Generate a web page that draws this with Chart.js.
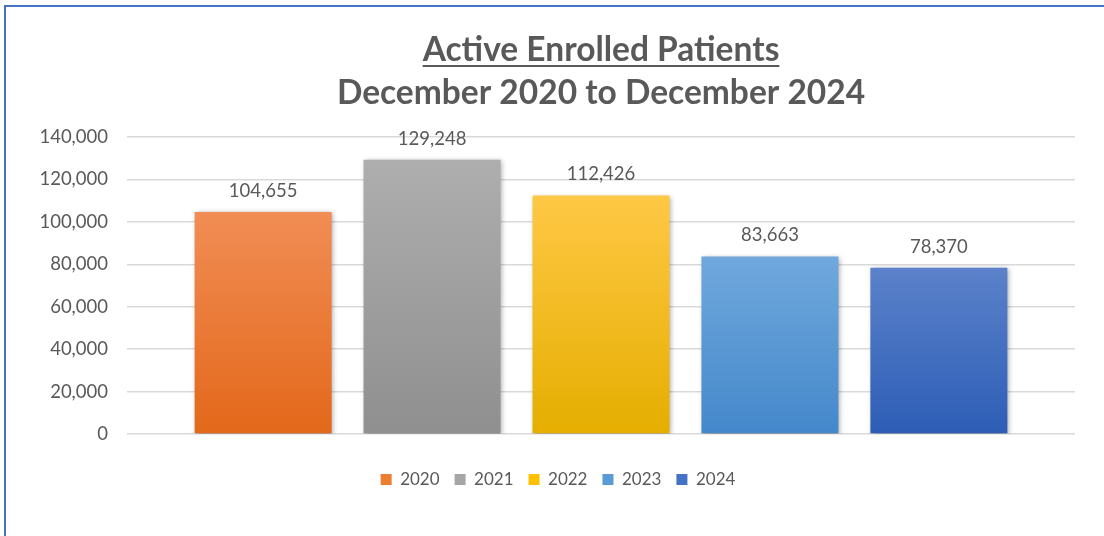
<!DOCTYPE html>
<html>
<head>
<meta charset="utf-8">
<script src="https://cdn.jsdelivr.net/npm/chart.js@4.4.1/dist/chart.umd.min.js"></script>
<style>
  html, body { margin: 0; padding: 0; background: #ffffff; }
  #wrap { position: relative; width: 1104px; height: 536px; overflow: hidden; }
  #frame { position: absolute; left: 4px; top: 5px; width: 1104px; height: 540px;
           border-left: 2px solid #4472C4; border-top: 2px solid #4472C4; box-sizing: border-box; }
  canvas { position: absolute; left: 0; top: 0; }
</style>
</head>
<body>
<div id="wrap">
  <div id="frame"></div>
  <canvas id="c" width="1104" height="536"></canvas>
</div>
<script>
// ---- data ----
const titleLines = ['Active Enrolled Patients', 'December 2020 to December 2024'];
const years = ['2020', '2021', '2022', '2023', '2024'];
const patients = [104655, 129248, 112426, 83663, 78370];
const topColors = ['#F18D55', '#AEAEAE', '#FFC845', '#70A8DD', '#5B82CA'];
const bottomColors = ['#E3681A', '#8F8F8F', '#E5AE00', '#4488CB', '#2D5DB6'];
const legendColors = ['#ED7D31', '#A5A5A5', '#FFC000', '#5B9BD5', '#4472C4'];
const yMin = 0, yMax = 140000, yStep = 20000;

const FONT = 'Lato, "Open Sans", sans-serif';
const TEXT = '#595959';

function gradFill(i) {
  return function(ctx) {
    const chart = ctx.chart;
    const area = chart.chartArea;
    const ys = chart.scales && chart.scales.y;
    if (!area || !ys) return legendColors[i];
    const top = ys.getPixelForValue(patients[i]);
    const g = chart.ctx.createLinearGradient(0, top, 0, area.bottom);
    g.addColorStop(0, topColors[i]);
    g.addColorStop(1, bottomColors[i]);
    return g;
  };
}

const datasets = years.map((y, i) => ({
  label: y,
  data: [patients[i]],
  backgroundColor: gradFill(i),
  borderWidth: 0,
  categoryPercentage: 0.891,
  barPercentage: 0.811
}));

const titlePlugin = {
  id: 'titleDraw',
  afterDraw(chart) {
    const ctx = chart.ctx;
    const cx = (chart.chartArea.left + chart.chartArea.right) / 2;
    ctx.save();
    ctx.fillStyle = TEXT;
    ctx.textAlign = 'center';
    ctx.textBaseline = 'alphabetic';
    ctx.font = 'bold 33.5px ' + FONT;
    ctx.fillText(titleLines[0], cx, 61);
    const w = ctx.measureText(titleLines[0]).width;
    ctx.fillRect(cx - w / 2, 65, w, 2);
    ctx.fillText(titleLines[1], cx, 104);
    ctx.restore();
  }
};

const shadowLabelPlugin = {
  id: 'shadowLabels',
  beforeDatasetsDraw(chart) {
    const ctx = chart.ctx;
    ctx.save();
    ctx.shadowColor = 'rgba(0,0,0,0.35)';
    ctx.shadowBlur = 5;
    ctx.shadowOffsetX = 1.5;
    ctx.shadowOffsetY = 1.5;
  },
  afterDatasetsDraw(chart) {
    const ctx = chart.ctx;
    ctx.restore();
    ctx.save();
    ctx.fillStyle = TEXT;
    ctx.font = '18.5px ' + FONT;
    ctx.textAlign = 'center';
    ctx.textBaseline = 'middle';
    chart.data.datasets.forEach((ds, i) => {
      const meta = chart.getDatasetMeta(i);
      meta.data.forEach((el, j) => {
        ctx.fillText(ds.data[j].toLocaleString('en-US'), el.x, el.y - 21);
      });
    });
    ctx.restore();
  }
};

new Chart(document.getElementById('c'), {
  type: 'bar',
  data: { labels: [''], datasets },
  plugins: [titlePlugin, shadowLabelPlugin],
  options: {
    responsive: false,
    devicePixelRatio: 1,
    animation: false,
    layout: { padding: { left: 41, right: 29, top: 137, bottom: 38 } },
    scales: {
      x: {
        display: true,
        afterFit: s => { s.height = 22; },
        grid: { display: false, drawTicks: false },
        border: { display: false },
        ticks: { font: { size: 9 }, padding: 0 }
      },
      y: {
        min: yMin, max: yMax,
        afterFit: s => { s.width = 86; },
        ticks: {
          stepSize: yStep, color: TEXT, padding: 19,
          font: { family: FONT, size: 18.5 },
          callback: v => Number(v).toLocaleString('en-US')
        },
        grid: { color: '#D9D9D9', lineWidth: 1.5, drawTicks: false },
        border: { display: false }
      }
    },
    plugins: {
      title: { display: false },
      tooltip: { enabled: false },
      legend: {
        position: 'bottom',
        labels: {
          boxWidth: 11, boxHeight: 11, padding: 15, color: TEXT,
          font: { family: FONT, size: 17 },
          generateLabels: chart => years.map((y, i) => ({
            text: y, fillStyle: legendColors[i], strokeStyle: legendColors[i],
            lineWidth: 0, hidden: false, datasetIndex: i, fontColor: TEXT
          }))
        }
      }
    }
  }
});
</script>
</body>
</html>
